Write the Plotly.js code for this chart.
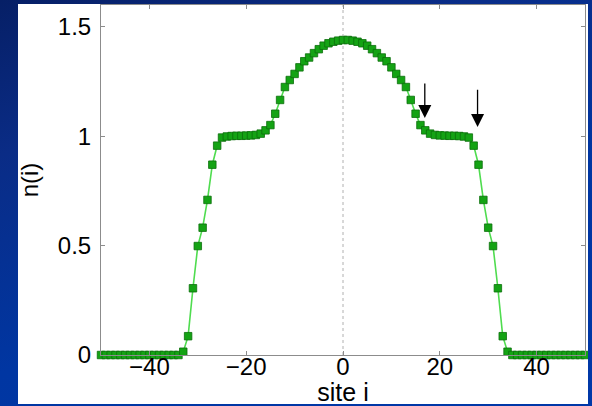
<!DOCTYPE html>
<html>
<head>
<meta charset="utf-8">
<script src="https://cdn.plot.ly/plotly-3.0.1.min.js"></script>
<style>
  html, body { margin: 0; padding: 0; }
  body {
    width: 592px; height: 406px; overflow: hidden;
    background: linear-gradient(160deg, #061f66 0%, #0a2c86 25%, #0036a2 60%, #0038a8 100%);
    background-attachment: fixed;
    position: relative;
  }
  .cover {
    position: absolute; z-index: 5;
    background: linear-gradient(160deg, #061f66 0%, #0a2c86 25%, #0036a2 60%, #0038a8 100%);
    background-attachment: fixed;
  }
  #panel {
    position: absolute; left: 18px; top: 4px; width: 570px; height: 400px;
    background: #ffffff;
  }
  #chart {
    position: absolute; left: 0; top: 0; width: 592px; height: 406px; z-index: 2;
  }
</style>
</head>
<body>
<div id="panel"></div>
<div id="chart"></div>
<div class="cover" style="left:588px; top:0; width:4px; height:406px;"></div>
<div class="cover" style="left:0; top:404px; width:592px; height:2px;"></div>
<div class="cover" style="left:0; top:0; width:592px; height:4px;"></div>
<script>
// lattice sites
const sites = [-50,-49,-48,-47,-46,-45,-44,-43,-42,-41,-40,-39,-38,-37,-36,-35,-34,-33,-32,-31,
  -30,-29,-28,-27,-26,-25,-24,-23,-22,-21,-20,-19,-18,-17,-16,-15,-14,-13,-12,-11,
  -10,-9,-8,-7,-6,-5,-4,-3,-2,-1,0,1,2,3,4,5,6,7,8,9,
  10,11,12,13,14,15,16,17,18,19,20,21,22,23,24,25,26,27,28,29,
  30,31,32,33,34,35,36,37,38,39,40,41,42,43,44,45,46,47,48,49,50];

// density n(i)
const density = [0,0,0,0,0,0,0,0,0,0,
  0,0,0,0,0,0,0,0.015,0.086,0.305,
  0.498,0.582,0.709,0.870,0.957,0.994,0.999,1.001,1.002,1.002,
  1.003,1.004,1.006,1.012,1.027,1.051,1.103,1.166,1.225,1.257,
  1.285,1.315,1.343,1.360,1.380,1.398,1.414,1.425,1.432,1.437,
  1.440,1.440,1.437,1.432,1.425,1.414,1.398,1.380,1.360,1.343,
  1.315,1.285,1.257,1.225,1.166,1.103,1.051,1.027,1.012,1.006,
  1.004,1.003,1.002,1.002,1.001,0.999,0.994,0.957,0.870,0.709,
  0.582,0.498,0.305,0.086,0.015,0,0,0,0,0,
  0,0,0,0,0,0,0,0,0,0,0];

const xTicks = [-40, -20, 0, 20, 40];
const xTickText = ['\u221240', '\u221220', '0', '20', '40'];
const yTicks = [0, 0.5, 1, 1.5];
const yTickText = ['0', '0.5', '1', '1.5'];

// arrows: [site, tail n, tip n]
const arrowSites = [16.9, 27.8];
const arrowTails = [1.248, 1.22];
const arrowTips = [1.083, 1.042];

const trace = {
  x: sites, y: density, type: 'scatter', mode: 'lines+markers',
  line: {color: '#4fdc4f', width: 1.6},
  marker: {symbol: 'square', size: 7.5, color: '#14a314', line: {color: '#0b6e0b', width: 0.8}},
  cliponaxis: false, hoverinfo: 'skip'
};

const fontFam = '"Liberation Sans", Arial, Helvetica, sans-serif';

const annotations = arrowSites.map((s, k) => ({
  x: s, y: arrowTips[k], ax: s, ay: arrowTails[k],
  xref: 'x', yref: 'y', axref: 'x', ayref: 'y',
  text: '', showarrow: true, arrowhead: 2, arrowsize: 2.0, arrowwidth: 1.3,
  arrowcolor: '#000000', standoff: 0, startstandoff: 0
}));

const layout = {
  width: 592, height: 406,
  margin: {l: 101, r: 7, t: 5, b: 51, pad: 0},
  paper_bgcolor: 'rgba(0,0,0,0)', plot_bgcolor: '#ffffff',
  showlegend: false,
  font: {family: fontFam, size: 24, color: '#000000'},
  xaxis: {
    range: [-50, 50], tickvals: xTicks, ticktext: xTickText,
    ticks: 'inside', ticklen: 4, tickwidth: 1, tickcolor: '#8c8c8c',
    showline: true, linecolor: '#8c8c8c', linewidth: 1, mirror: 'ticks',
    showgrid: false, zeroline: false, ticklabelstandoff: -10,
    tickfont: {family: fontFam, size: 24, color: '#000'},
    title: {text: 'site i', font: {family: fontFam, size: 25, color: '#000'}, standoff: 17},
    automargin: false
  },
  yaxis: {
    range: [0, 1.6], tickvals: yTicks, ticktext: yTickText,
    ticks: 'inside', ticklen: 4, tickwidth: 1, tickcolor: '#8c8c8c',
    showline: true, linecolor: '#8c8c8c', linewidth: 1, mirror: 'ticks',
    showgrid: false, zeroline: false, ticklabelstandoff: 4,
    tickfont: {family: fontFam, size: 24, color: '#000'},
    title: {text: 'n(i)', font: {family: fontFam, size: 24, color: '#000'}, standoff: 12},
    automargin: false
  },
  shapes: [{
    type: 'line', xref: 'x', yref: 'paper', x0: 0, x1: 0, y0: 0, y1: 1,
    line: {color: '#b0b0b0', width: 1, dash: 'dot'}, layer: 'below'
  }],
  annotations: annotations
};

Plotly.newPlot('chart', [trace], layout, {displayModeBar: false, staticPlot: true});
</script>
</body>
</html>
